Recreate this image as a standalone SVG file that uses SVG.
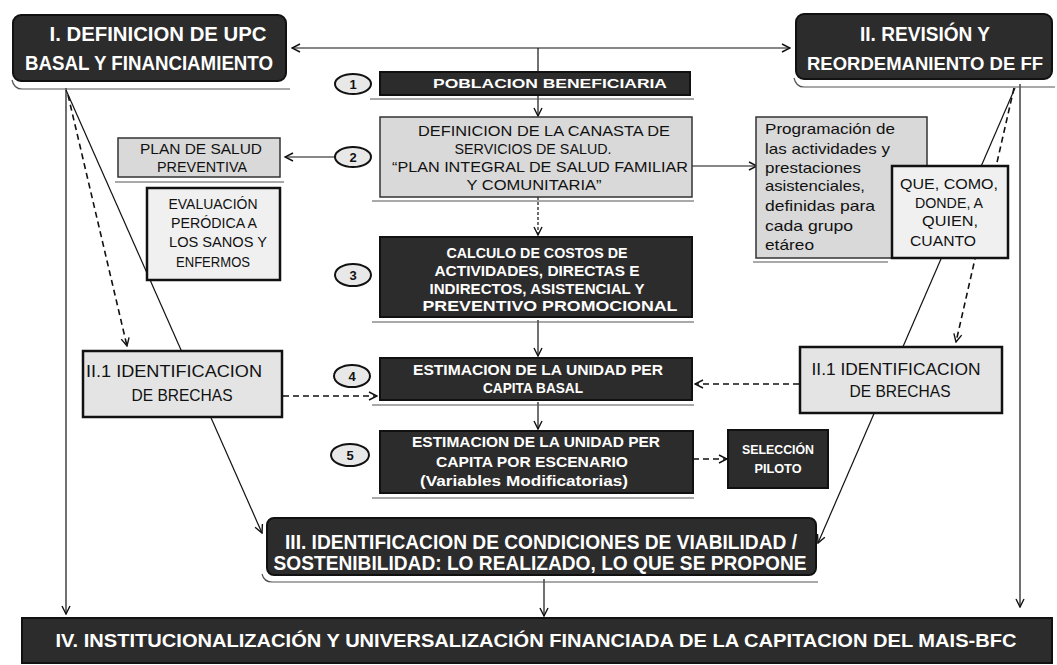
<svg xmlns="http://www.w3.org/2000/svg" width="1057" height="665" viewBox="0 0 1057 665">
<defs>
<marker id="ah" viewBox="0 0 10 10" refX="9" refY="5" markerWidth="10" markerHeight="10" markerUnits="userSpaceOnUse" orient="auto">
<path d="M1,1 L9,5 L1,9" fill="none" stroke="#111" stroke-width="1.4"/>
</marker>
<style>
.dark{fill:#2c2c2c;stroke:#111;stroke-width:2}
.light{fill:#d9d9d9;stroke:#333;stroke-width:1.5}
.white{fill:#f0f0f0;stroke:#111;stroke-width:2.5}
.circ{fill:#e8e8e8;stroke:#111;stroke-width:2}
.sh{fill:none;stroke:#555;stroke-width:1.2}
.tw{fill:#fff;font-family:"Liberation Sans",Arial,sans-serif;font-weight:bold;text-anchor:middle}
.tb{fill:#111;font-family:"Liberation Sans",Arial,sans-serif;text-anchor:middle}
.tl{fill:#111;font-family:"Liberation Sans",Arial,sans-serif;text-anchor:start}
.num{fill:#111;font-family:"Liberation Sans",Arial,sans-serif;font-weight:bold;font-size:13px;text-anchor:middle}
.c{fill:none;stroke:#111;stroke-width:1.2}
.cd{fill:none;stroke:#111;stroke-width:1.6;stroke-dasharray:6,4}
</style>
</defs>
<rect width="1057" height="665" fill="#fff"/>

<g id="connectors">
<path class="c" d="M541,48 H292" marker-end="url(#ah)"/>
<path class="c" d="M541,48 H790" marker-end="url(#ah)"/>
<path class="c" d="M538,48 V72"/>
<path class="c" d="M538,96 V116" marker-end="url(#ah)"/>
<path class="c" d="M335,157 H285" marker-end="url(#ah)"/>
<path class="c" d="M692,166 H757" marker-end="url(#ah)"/>
<path class="c" d="M538,197 V235" stroke-dasharray="3,2" marker-end="url(#ah)"/>
<path class="c" d="M538,320 V356" marker-end="url(#ah)"/>
<path class="c" d="M538,402 V429" marker-end="url(#ah)"/>
<path class="cd" d="M693,459 H727" stroke-width="1.3" marker-end="url(#ah)"/>
<path class="c" d="M544,579 V616" marker-end="url(#ah)"/>
<path class="c" d="M66,88 V614" marker-end="url(#ah)"/>
<path class="c" d="M1020,84 V607" marker-end="url(#ah)"/>
<path class="cd" d="M68,95 L127,346" marker-end="url(#ah)"/>
<path class="c" d="M66,90 L262,533" marker-end="url(#ah)"/>
<path class="cd" d="M1014,88 L956,342" marker-end="url(#ah)"/>
<path class="c" d="M1015,88 L818,543" marker-end="url(#ah)"/>
<path class="cd" d="M283,396 H377" marker-end="url(#ah)"/>
<path class="cd" d="M799,384 H695" marker-end="url(#ah)"/>
</g>

<g id="n-I">
<path class="sh" d="M12,80 Q14,89 22,89 H290"/>
<rect class="dark" x="13" y="15" width="273" height="66" rx="8"/>
<text class="tw" x="158" y="41" font-size="20" textLength="217" lengthAdjust="spacingAndGlyphs">I. DEFINICION DE UPC</text>
<text class="tw" x="149" y="70" font-size="20" textLength="248" lengthAdjust="spacingAndGlyphs">BASAL Y FINANCIAMIENTO</text>
</g>

<g id="n-II">
<path class="sh" d="M794,78 Q796,87 804,87 H1055"/>
<rect class="dark" x="796" y="14" width="256" height="65" rx="8"/>
<text class="tw" x="925" y="41" font-size="20" textLength="130" lengthAdjust="spacingAndGlyphs">II. REVISIÓN Y</text>
<text class="tw" x="925" y="70" font-size="18" textLength="236" lengthAdjust="spacingAndGlyphs">REORDEMANIENTO DE FF</text>
</g>

<g id="c1"><ellipse class="circ" cx="353" cy="84" rx="18" ry="10"/><text class="num" x="353" y="89">1</text></g>
<g id="c2"><ellipse class="circ" cx="353" cy="157" rx="18" ry="10"/><text class="num" x="353" y="162">2</text></g>
<g id="c3"><ellipse class="circ" cx="353" cy="275" rx="18" ry="11"/><text class="num" x="353" y="280">3</text></g>
<g id="c4"><ellipse class="circ" cx="352" cy="376" rx="18" ry="11"/><text class="num" x="352" y="381">4</text></g>
<g id="c5"><ellipse class="circ" cx="350" cy="455" rx="19" ry="11"/><text class="num" x="350" y="460">5</text></g>

<g id="n-poblacion">
<path class="sh" d="M370,99 H694"/>
<rect class="dark" x="380" y="72" width="310" height="23"/>
<text class="tw" x="550" y="88" font-size="13" textLength="234" lengthAdjust="spacingAndGlyphs">POBLACION BENEFICIARIA</text>
</g>

<g id="n-canasta">
<path class="sh" d="M372,201 H694"/>
<rect class="light" x="380" y="117" width="312" height="80"/>
<text class="tb" x="544" y="136" font-size="15" textLength="252" lengthAdjust="spacingAndGlyphs">DEFINICION DE LA CANASTA DE</text>
<text class="tb" x="533" y="154" font-size="15" textLength="157" lengthAdjust="spacingAndGlyphs">SERVICIOS DE SALUD.</text>
<text class="tb" x="540" y="172" font-size="15" textLength="296" lengthAdjust="spacingAndGlyphs">“PLAN INTEGRAL DE SALUD FAMILIAR</text>
<text class="tb" x="534" y="190" font-size="15" textLength="135" lengthAdjust="spacingAndGlyphs">Y COMUNITARIA”</text>
</g>

<g id="n-calculo">
<path class="sh" d="M372,322 H694"/>
<rect class="dark" x="380" y="237" width="312" height="80"/>
<text class="tw" x="537" y="258" font-size="15" textLength="181" lengthAdjust="spacingAndGlyphs">CALCULO DE COSTOS DE</text>
<text class="tw" x="537" y="276" font-size="15" textLength="205" lengthAdjust="spacingAndGlyphs">ACTIVIDADES, DIRECTAS E</text>
<text class="tw" x="537" y="294" font-size="15" textLength="215" lengthAdjust="spacingAndGlyphs">INDIRECTOS, ASISTENCIAL Y</text>
<text class="tw" x="550" y="311" font-size="15" textLength="255" lengthAdjust="spacingAndGlyphs">PREVENTIVO PROMOCIONAL</text>
</g>

<g id="n-basal">
<path class="sh" d="M372,405 H694"/>
<rect class="dark" x="380" y="358" width="312" height="42"/>
<text class="tw" x="538" y="375" font-size="15" textLength="250" lengthAdjust="spacingAndGlyphs">ESTIMACION DE LA UNIDAD PER</text>
<text class="tw" x="533" y="393" font-size="15" textLength="100" lengthAdjust="spacingAndGlyphs">CAPITA BASAL</text>
</g>

<g id="n-escenario">
<path class="sh" d="M372,498 H694"/>
<rect class="dark" x="380" y="431" width="313" height="62"/>
<text class="tw" x="536" y="447" font-size="15" textLength="248" lengthAdjust="spacingAndGlyphs">ESTIMACION DE LA UNIDAD PER</text>
<text class="tw" x="532" y="467" font-size="15" textLength="192" lengthAdjust="spacingAndGlyphs">CAPITA POR ESCENARIO</text>
<text class="tw" x="524" y="486" font-size="15" textLength="208" lengthAdjust="spacingAndGlyphs">(Variables Modificatorias)</text>
</g>

<g id="n-piloto">
<rect class="dark" x="728" y="430" width="100" height="58"/>
<text class="tw" x="778" y="454" font-size="12" textLength="72" lengthAdjust="spacingAndGlyphs">SELECCIÓN</text>
<text class="tw" x="778" y="473" font-size="12" textLength="47" lengthAdjust="spacingAndGlyphs">PILOTO</text>
</g>

<g id="n-plan">
<path class="sh" d="M115,182 H284"/>
<rect class="light" x="118" y="138" width="162" height="39"/>
<text class="tb" x="201" y="154" font-size="14" textLength="122" lengthAdjust="spacingAndGlyphs">PLAN DE SALUD</text>
<text class="tb" x="202" y="172" font-size="14" textLength="90" lengthAdjust="spacingAndGlyphs">PREVENTIVA</text>
</g>

<g id="n-evaluacion">
<rect class="white" x="147" y="188" width="133" height="92"/>
<text class="tb" x="213" y="209" font-size="14" textLength="89" lengthAdjust="spacingAndGlyphs">EVALUACIÓN</text>
<text class="tb" x="214" y="228" font-size="14" textLength="86" lengthAdjust="spacingAndGlyphs">PERÓDICA A</text>
<text class="tb" x="218" y="247" font-size="14" textLength="98" lengthAdjust="spacingAndGlyphs">LOS SANOS Y</text>
<text class="tb" x="213" y="267" font-size="14" textLength="74" lengthAdjust="spacingAndGlyphs">ENFERMOS</text>
</g>

<g id="n-programacion">
<path class="sh" d="M753,262 H888"/>
<rect class="light" x="756" y="117" width="171" height="141"/>
<text class="tl" x="765" y="134" font-size="15" textLength="130" lengthAdjust="spacingAndGlyphs">Programación de</text>
<text class="tl" x="765" y="154" font-size="15" textLength="125" lengthAdjust="spacingAndGlyphs">las actividades y</text>
<text class="tl" x="765" y="173" font-size="15" textLength="96" lengthAdjust="spacingAndGlyphs">prestaciones</text>
<text class="tl" x="765" y="191" font-size="15" textLength="100" lengthAdjust="spacingAndGlyphs">asistenciales,</text>
<text class="tl" x="765" y="211" font-size="15" textLength="110" lengthAdjust="spacingAndGlyphs">definidas para</text>
<text class="tl" x="765" y="231" font-size="15" textLength="88" lengthAdjust="spacingAndGlyphs">cada grupo</text>
<text class="tl" x="765" y="250" font-size="15" textLength="49" lengthAdjust="spacingAndGlyphs">etáreo</text>
</g>

<g id="n-que">
<rect class="white" x="892" y="166" width="116" height="92"/>
<text class="tb" x="949" y="189" font-size="14" textLength="98" lengthAdjust="spacingAndGlyphs">QUE, COMO,</text>
<text class="tb" x="949" y="208" font-size="14" textLength="68" lengthAdjust="spacingAndGlyphs">DONDE, A</text>
<text class="tb" x="950" y="226" font-size="14" textLength="56" lengthAdjust="spacingAndGlyphs">QUIEN,</text>
<text class="tb" x="943" y="246" font-size="14" textLength="66" lengthAdjust="spacingAndGlyphs">CUANTO</text>
</g>

<g id="n-brechas-left">
<rect class="white" x="83" y="351" width="199" height="66" style="fill:#e4e4e4"/>
<text class="tb" x="174" y="377" font-size="17" textLength="176" lengthAdjust="spacingAndGlyphs">II.1 IDENTIFICACION</text>
<text class="tb" x="182" y="401" font-size="17" textLength="101" lengthAdjust="spacingAndGlyphs">DE BRECHAS</text>
</g>

<g id="n-brechas-right">
<rect class="white" x="800" y="347" width="202" height="66" style="fill:#e4e4e4"/>
<text class="tb" x="896" y="375" font-size="17" textLength="169" lengthAdjust="spacingAndGlyphs">II.1 IDENTIFICACION</text>
<text class="tb" x="900" y="397" font-size="17" textLength="101" lengthAdjust="spacingAndGlyphs">DE BRECHAS</text>
</g>

<g id="n-III">
<path class="sh" d="M262,574 Q264,582 272,582 H818"/>
<rect class="dark" x="267" y="518" width="549" height="57" rx="7"/>
<text class="tw" x="541" y="549" font-size="20" textLength="512" lengthAdjust="spacingAndGlyphs">III. IDENTIFICACION DE CONDICIONES DE VIABILIDAD /</text>
<text class="tw" x="540" y="570" font-size="20" textLength="533" lengthAdjust="spacingAndGlyphs">SOSTENIBILIDAD: LO REALIZADO, LO QUE SE PROPONE</text>
</g>

<g id="n-IV">
<rect class="dark" x="22" y="618" width="1030" height="45"/>
<text class="tw" x="536" y="647" font-size="18" textLength="961" lengthAdjust="spacingAndGlyphs">IV. INSTITUCIONALIZACIÓN Y UNIVERSALIZACIÓN FINANCIADA DE LA CAPITACION DEL MAIS-BFC</text>
</g>
</svg>
